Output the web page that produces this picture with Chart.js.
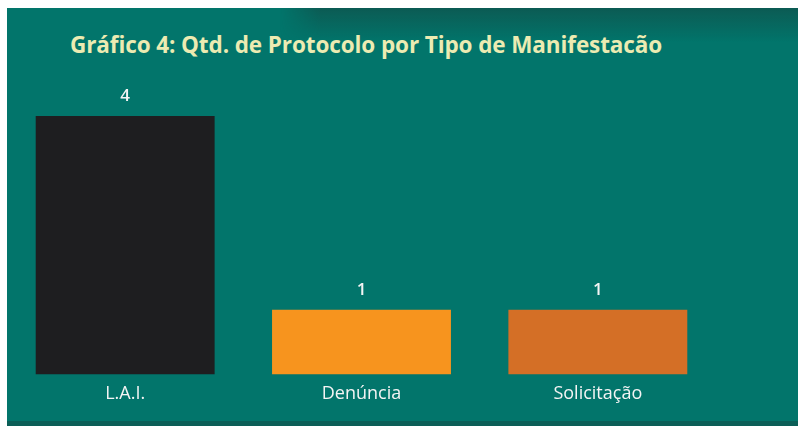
<!DOCTYPE html>
<html>
<head>
<meta charset="utf-8">
<script src="https://cdn.jsdelivr.net/npm/chart.js@4/dist/chart.umd.min.js"></script>
<style>
    html, body { margin: 0; padding: 0; background: #ffffff; width: 798px; height: 426px; overflow: hidden; }
    #panel {
        position: absolute; left: 7px; top: 8px; width: 791px; height: 418px;
        background: #02756b;
    }
    #shade {
        position: absolute; left: 273px; top: 0; width: 518px; height: 34px;
        background: linear-gradient(to bottom, rgba(20,70,65,0.55), rgba(20,70,65,0));
        -webkit-mask-image: linear-gradient(to right, rgba(0,0,0,0), #000 40px);
    }
    #bottomStrip {
        position: absolute; left: 0; bottom: 0; width: 100%; height: 5px;
        background: #0b5e57;
    }
    #title {
        position: absolute; left: 70px; top: 29px;
        font-family: "Open Sans", sans-serif; font-weight: 700; font-size: 22.5px;
        color: #ecebb2; letter-spacing: -0.1px; white-space: nowrap;
    }
    canvas { position: absolute; left: 0; top: 0; }
</style>
</head>
<body>
<div id="panel">
    <div id="shade"></div>
    <div id="bottomStrip"></div>
</div>
<div id="title">Gráfico 4: Qtd. de Protocolo por Tipo de Manifestacão</div>
<canvas id="manifestChart" width="798" height="426"></canvas>

<script>
const categories = ["L.A.I.", "Denúncia", "Solicitação"];
const protocolCounts = [4, 1, 1];
const barColors = ["#1e1e20", "#f7941e", "#d46f26"];

const ctx = document.getElementById("manifestChart").getContext("2d");

new Chart(ctx, {
    type: 'bar',

    data: {
        labels: categories,
        datasets: [{
            label: 'Qtd. de Protocolo',
            data: protocolCounts,
            backgroundColor: barColors,
            borderWidth: 0,
            categoryPercentage: 0.757,
            barPercentage: 1
        }]
    },

    options: {
        responsive: false,
        animation: false,

        layout: {
            padding: { left: 7, right: 82, top: 116, bottom: 20 }
        },

        plugins: {
            legend: { display: false },
            tooltip: { enabled: false }
        },

        scales: {
            x: {
                grid: { display: false },
                border: { display: false },
                ticks: {
                    color: "#f4f4f4",
                    padding: 1,
                    font: { family: "Open Sans", size: 18 }
                }
            },
            y: {
                display: false,
                min: 0,
                max: 4
            }
        }
    },

    plugins: [{
        id: "valueLabels",

        afterDatasetsDraw: (chart) => {
            const c = chart.ctx;
            const meta = chart.getDatasetMeta(0);
            c.save();
            c.fillStyle = "#f4f4f4";
            c.font = "600 17px 'Open Sans'";
            c.textAlign = "center";
            c.textBaseline = "alphabetic";
            meta.data.forEach((bar, i) => {
                c.fillText(String(protocolCounts[i]), bar.x, bar.y - 15);
            });
            c.restore();
        }
    }]
});
</script>
</body>
</html>
